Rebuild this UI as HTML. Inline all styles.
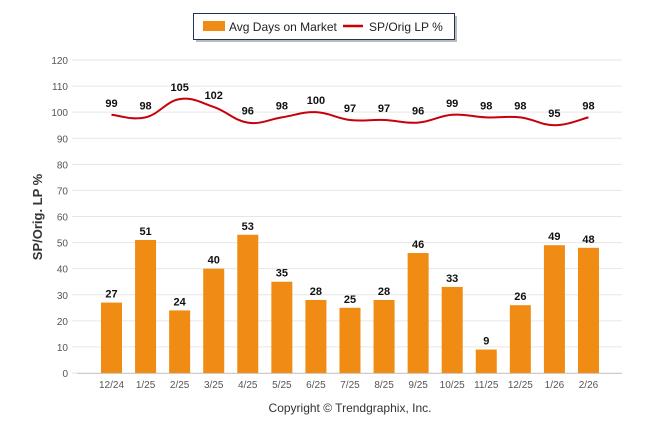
<!DOCTYPE html>
<html><head><meta charset="utf-8"><style>
body{margin:0;background:#fff;width:646px;height:434px;overflow:hidden;font-family:"Liberation Sans",sans-serif}
</style></head><body>
<svg width="646" height="434" id="c">
<rect x="196" y="16" width="261" height="26" fill="#bbb"/>
<rect x="193.5" y="13.5" width="261" height="26" fill="#fff" stroke="#1f3458"/>
<rect x="203" y="21" width="22" height="10" fill="#f08c13"/>
<text x="229" y="31" font-size="12" fill="#222">Avg Days on Market</text>
<line x1="343" y1="26" x2="363" y2="26" stroke="#c00" stroke-width="2.5"/>
<text x="369" y="31" font-size="12" fill="#222">SP/Orig LP %</text>
<text transform="translate(42,217) rotate(-90)" text-anchor="middle" font-size="13" font-weight="bold" fill="#333">SP/Orig. LP %</text>
<text x="350" y="412" text-anchor="middle" font-size="12" fill="#333">Copyright © Trendgraphix, Inc.</text>
<g id="g"></g>
</svg>
<script>
const categories=["12/24","1/25","2/25","3/25","4/25","5/25","6/25","7/25","8/25","9/25","10/25","11/25","12/25","1/26","2/26"];
const daysOnMarket=[27,51,24,40,53,35,28,25,28,46,33,9,26,49,48];
const spOrigLp=[99,98,105,102,96,98,100,97,97,96,99,98,98,95,98];
const yTicks=[0,10,20,30,40,50,60,70,80,90,100,110,120];
const NS="http://www.w3.org/2000/svg";
const g=document.getElementById('g');
const y=v=>373-v*(313/120);
const x=i=>111.5+i*34.07;
function mk(t,a,txt){const e=document.createElementNS(NS,t);for(const k in a)e.setAttribute(k,a[k]);if(txt!=null)e.textContent=txt;g.appendChild(e);return e;}
yTicks.forEach(v=>{
 const l=mk('line',{x1:72,x2:622,y1:y(v),y2:y(v),stroke:'#e6e6e6'});
 
 
 const t=mk('text',{x:68,y:y(v)+4,'text-anchor':'end','font-size':10,fill:'#555'},v);
 
 
});
const ax=mk('line',{x1:77,x2:622,y1:373.5,y2:373.5,stroke:'#ccc'});


categories.forEach((c,i)=>{
 const b=mk('rect',{x:x(i)-10.5,y:y(daysOnMarket[i]),width:21,height:373-y(daysOnMarket[i]),fill:'#f08c13'});
 
 
 const bl=mk('text',{x:x(i),y:y(daysOnMarket[i])-5,'text-anchor':'middle','font-size':11,'font-weight':'bold',fill:'#111'},daysOnMarket[i]);
 
 
 const t=mk('text',{x:x(i),y:388,'text-anchor':'middle','font-size':10,fill:'#555'},c);
 
 
 const ll=mk('text',{x:x(i),y:y(spOrigLp[i])-8,'text-anchor':'middle','font-size':11,'font-weight':'bold',fill:'#111'},spOrigLp[i]);
 
 
});
let d='';const P=spOrigLp.map((v,i)=>[x(i),y(v)]);
P.forEach((p,i)=>{if(i==0){d='M'+p[0]+','+p[1];return;}
 const p0=P[i-1],pm=P[i-2]||p0,pn=P[i+1]||p;const k=0.2;
 d+=` C${p0[0]+(p[0]-pm[0])*k},${p0[1]+(p[1]-pm[1])*k} ${p[0]-(pn[0]-p0[0])*k},${p[1]-(pn[1]-p0[1])*k} ${p[0]},${p[1]}`;});
const ln=mk('path',{d:d,fill:'none',stroke:'#c8000a','stroke-width':2});


</script>
</body></html>
